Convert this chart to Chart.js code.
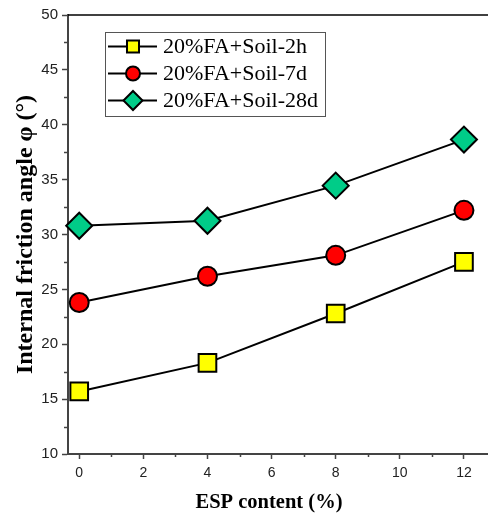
<!DOCTYPE html>
<html><head><meta charset="utf-8">
<script src="https://cdn.jsdelivr.net/npm/chart.js@4.4.1/dist/chart.umd.min.js"></script>
<style>html,body{margin:0;padding:0;background:#fff;} canvas{display:block;}</style>
</head><body>
<canvas id="c" width="488" height="514"></canvas>
<script>
const espContent = [0, 4, 8, 12];
const soil2h = [15.7, 18.3, 22.8, 27.5];
const soil7d = [23.8, 26.2, 28.1, 32.2];
const soil28d = [30.8, 31.25, 34.45, 38.65];
const seriesLabels = ['20%FA+Soil-2h', '20%FA+Soil-7d', '20%FA+Soil-28d'];
const xTicks = [0, 2, 4, 6, 8, 10, 12];
const xMinorTicks = [1, 3, 5, 7, 9, 11];
const yTicks = [10, 15, 20, 25, 30, 35, 40, 45, 50];
const yMinorTicks = [12.5, 17.5, 22.5, 27.5, 32.5, 37.5, 42.5, 47.5];
const xTitle = 'ESP content (%)';
const yTitle = 'Internal friction angle φ (°)';

const AXIS = '#444';
const SERIF = "'Liberation Serif','Times New Roman',serif";
const SANS = "'Liberation Sans',Arial,sans-serif";

function pts(ys) { return espContent.map((x, i) => ({x: x, y: ys[i]})); }

const styles = [
  {style: 'rect', color: '#FFFF00', r: 12.5, lr: 8.5},
  {style: 'circle', color: '#FF0000', r: 9.5, lr: 7},
  {style: 'rectRot', color: '#00CC88', r: 13, lr: 9.5}
];
const seriesData = [soil2h, soil7d, soil28d];

const datasets = seriesData.map((d, i) => ({
  label: seriesLabels[i],
  data: pts(d),
  borderColor: '#000',
  borderWidth: 2,
  backgroundColor: styles[i].color,
  pointStyle: styles[i].style,
  pointRadius: styles[i].r,
  pointHoverRadius: styles[i].r,
  pointBackgroundColor: styles[i].color,
  pointBorderColor: '#000',
  pointBorderWidth: 2,
  tension: 0,
  clip: false
}));

function drawMarker(ctx, style, x, y, r, fill) {
  ctx.save();
  ctx.fillStyle = fill; ctx.strokeStyle = '#000'; ctx.lineWidth = 2;
  ctx.beginPath();
  if (style === 'rect') {
    const s = r * Math.SQRT1_2;
    ctx.rect(x - s, y - s, 2 * s, 2 * s);
  } else if (style === 'circle') {
    ctx.arc(x, y, r, 0, Math.PI * 2);
  } else {
    ctx.moveTo(x, y - r); ctx.lineTo(x + r, y); ctx.lineTo(x, y + r); ctx.lineTo(x - r, y); ctx.closePath();
  }
  ctx.fill(); ctx.stroke();
  ctx.restore();
}

const extras = {
  id: 'extras',
  beforeDatasetsDraw(chart) {
    const ctx = chart.ctx, ca = chart.chartArea;
    const xs = chart.scales.x, ys = chart.scales.y;
    ctx.save();
    ctx.strokeStyle = '#000'; ctx.lineWidth = 1.5;
    ctx.beginPath(); ctx.moveTo(ca.left, ca.top); ctx.lineTo(ca.right, ca.top); ctx.stroke();
    ctx.strokeStyle = AXIS; ctx.lineWidth = 1.5;
    xMinorTicks.forEach(v => {
      const px = Math.round(xs.getPixelForValue(v)) + 0.5;
      ctx.beginPath(); ctx.moveTo(px, ca.bottom); ctx.lineTo(px, ca.bottom + 3); ctx.stroke();
    });
    yMinorTicks.forEach(v => {
      const py = Math.round(ys.getPixelForValue(v)) + 0.5;
      ctx.beginPath(); ctx.moveTo(ca.left, py); ctx.lineTo(ca.left - 4, py); ctx.stroke();
    });
    ctx.fillStyle = '#000';
    ctx.font = 'bold 20.5px ' + SERIF;
    ctx.textAlign = 'center'; ctx.textBaseline = 'alphabetic';
    ctx.fillText(xTitle, 269, 508);
    ctx.save();
    ctx.translate(32, (ca.top + ca.bottom) / 2);
    ctx.rotate(-Math.PI / 2);
    ctx.font = 'bold 24px ' + SERIF;
    ctx.fillText(yTitle, 0, 0);
    ctx.restore();
    ctx.restore();
  },
  afterDraw(chart) {
    const ctx = chart.ctx;
    ctx.save();
    const lx = 105, ly = 32, lw = 220, lh = 84;
    ctx.fillStyle = '#fff'; ctx.fillRect(lx, ly, lw, lh);
    ctx.strokeStyle = '#555'; ctx.lineWidth = 1;
    ctx.strokeRect(lx + 0.5, ly + 0.5, lw, lh);
    const rows = [46.5, 73.5, 100.5];
    seriesLabels.forEach((lab, i) => {
      const y = rows[i];
      ctx.strokeStyle = '#000'; ctx.lineWidth = 2;
      ctx.beginPath(); ctx.moveTo(108, y); ctx.lineTo(157, y); ctx.stroke();
      drawMarker(ctx, styles[i].style, 133, y, styles[i].lr, styles[i].color);
      ctx.fillStyle = '#000';
      ctx.font = '22px ' + SERIF;
      ctx.textBaseline = 'middle'; ctx.textAlign = 'left';
      ctx.fillText(lab, 163, y + 1);
    });
    ctx.restore();
  }
};

new Chart(document.getElementById('c'), {
  type: 'line',
  data: {datasets: datasets},
  plugins: [extras],
  options: {
    responsive: false,
    animation: false,
    devicePixelRatio: 1,
    layout: {autoPadding: false, padding: {top: 15, right: 0, left: 0, bottom: 0}},
    plugins: {legend: {display: false}, tooltip: {enabled: false}},
    scales: {
      x: {
        type: 'linear', position: 'bottom', min: -0.35, max: 12.75,
        afterFit(s) { s.height = 60; },
        afterBuildTicks(s) { s.ticks = xTicks.map(v => ({value: v})); },
        grid: {display: true, drawOnChartArea: false, drawTicks: true, tickLength: 5, color: AXIS, tickWidth: 1.5},
        border: {display: true, color: AXIS, width: 2},
        ticks: {padding: 6, color: '#222', font: {family: SANS, size: 14}, maxRotation: 0},
        title: {display: false}
      },
      y: {
        type: 'linear', min: 10, max: 50,
        afterFit(s) { s.width = 68; },
        afterBuildTicks(s) { s.ticks = yTicks.map(v => ({value: v})); },
        grid: {display: true, drawOnChartArea: false, drawTicks: true, tickLength: 6, color: AXIS, tickWidth: 1.5},
        border: {display: true, color: AXIS, width: 2},
        ticks: {padding: 4, color: '#222', font: {family: SANS, size: 15}},
        title: {display: false}
      }
    }
  }
});
</script>
</body></html>
